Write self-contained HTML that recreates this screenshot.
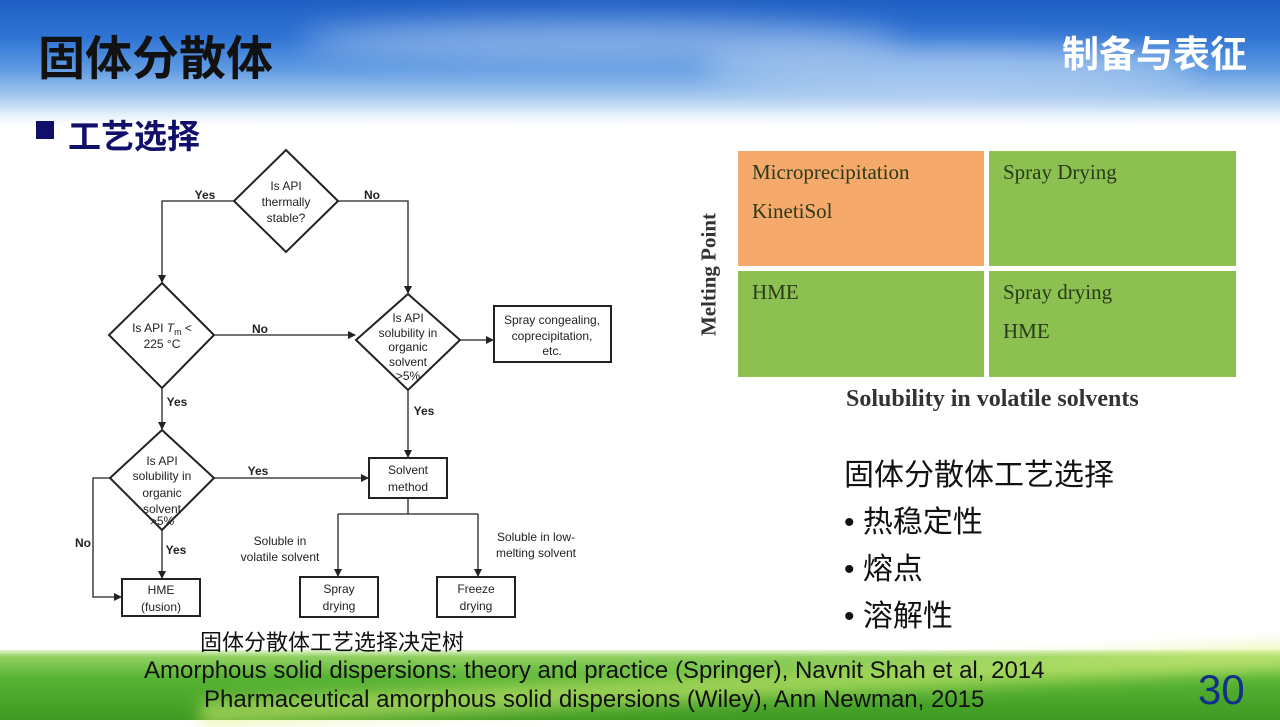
<!DOCTYPE html>
<html><head><meta charset="utf-8"><style>
body{margin:0;width:1280px;height:720px;overflow:hidden;position:relative;font-family:"Liberation Sans","Noto Sans CJK SC",sans-serif;background:#fff}
.sky{position:absolute;left:0;top:0;width:1280px;height:125px;background:linear-gradient(180deg,#1f5fc4 0%,#2f74d4 30%,#5e9ae2 55%,#a9cbef 78%,#e8f1fb 92%,#fff 100%)}
.cloud{position:absolute;border-radius:50%;background:rgba(255,255,255,.4);filter:blur(14px)}
.grass{position:absolute;left:0;top:650px;width:1280px;height:70px;background:linear-gradient(180deg,#e4f5d0 0%,#8fd060 10%,#56b333 40%,#3e9a22 100%)}
.stripe{position:absolute;left:200px;top:672px;width:1100px;height:26px;background:rgba(220,240,120,.55);transform:rotate(-3deg);filter:blur(8px)}
.abs{position:absolute;white-space:nowrap}
.cell{position:absolute;font-family:"Liberation Serif",serif;font-size:21px;color:#2a3a1a;padding:2px 14px;box-sizing:border-box;line-height:39px}
</style></head><body>
<div class="sky"></div>
<div class="cloud" style="left:300px;top:20px;width:600px;height:40px"></div>
<div class="cloud" style="left:700px;top:45px;width:500px;height:45px"></div>
<div class="grass"></div><div class="stripe"></div>
<div class="abs" style="left:38px;top:20px;font-size:47px;font-weight:bold;color:#111">固体分散体</div>
<div class="abs" style="left:1062px;top:24px;font-size:37px;font-weight:bold;color:#fff">制备与表征</div>
<div class="abs" style="left:36px;top:121px;width:18px;height:18px;background:#10106a"></div>
<div class="abs" style="left:68px;top:110px;font-size:33px;font-weight:bold;color:#10106a">工艺选择</div>

<svg class="abs" style="left:0;top:0" width="700" height="640" font-family="Liberation Sans,sans-serif" font-size="12" fill="none" stroke="#222" stroke-width="1.3">
<defs><marker id="a" markerWidth="8" markerHeight="8" refX="7" refY="4" orient="auto" markerUnits="userSpaceOnUse"><path d="M0,0L8,4L0,8z" fill="#222" stroke="none"/></marker></defs>
<polygon points="286,150 338,201 286,252 234,201" stroke-width="2"/>
<polygon points="162,283 214,335 162,388 109,335" stroke-width="2"/>
<polygon points="408,294 460,340 408,390 356,340" stroke-width="2"/>
<polygon points="162,430 214,478 162,530 110,478" stroke-width="2"/>
<rect x="494" y="306" width="117" height="56" stroke-width="2"/>
<rect x="369" y="458" width="78" height="40" stroke-width="2"/>
<rect x="122" y="579" width="78" height="37" stroke-width="2"/>
<rect x="300" y="577" width="78" height="40" stroke-width="2"/>
<rect x="437" y="577" width="78" height="40" stroke-width="2"/>
<polyline points="234,201 162,201 162,282" marker-end="url(#a)"/>
<polyline points="338,201 408,201 408,293" marker-end="url(#a)"/>
<line x1="214" y1="335" x2="355" y2="335" marker-end="url(#a)"/>
<line x1="460" y1="340" x2="493" y2="340" marker-end="url(#a)"/>
<line x1="162" y1="388" x2="162" y2="429" marker-end="url(#a)"/>
<line x1="408" y1="390" x2="408" y2="457" marker-end="url(#a)"/>
<line x1="214" y1="478" x2="368" y2="478" marker-end="url(#a)"/>
<line x1="162" y1="530" x2="162" y2="578" marker-end="url(#a)"/>
<polyline points="110,478 93,478 93,597 121,597" marker-end="url(#a)"/>
<polyline points="408,498 408,514"/>
<polyline points="338,514 478,514"/>
<line x1="338" y1="514" x2="338" y2="576" marker-end="url(#a)"/>
<line x1="478" y1="514" x2="478" y2="576" marker-end="url(#a)"/>
<g fill="#222" stroke="none" text-anchor="middle">
<text x="286" y="190">Is API</text><text x="286" y="206">thermally</text><text x="286" y="222">stable?</text>
<text x="162" y="332">Is API <tspan font-style="italic">T</tspan><tspan font-size="9" dy="3">m</tspan><tspan dy="-3"> &lt;</tspan></text><text x="162" y="348">225 °C</text>
<text x="408" y="322">Is API</text><text x="408" y="337">solubility in</text><text x="408" y="351">organic</text><text x="408" y="366">solvent</text><text x="408" y="380">&gt;5%</text>
<text x="162" y="465">Is API</text><text x="162" y="480">solubility in</text><text x="162" y="497">organic</text><text x="162" y="513">solvent</text><text x="162" y="525">&gt;5%</text>
<text x="552" y="324">Spray congealing,</text><text x="552" y="340">coprecipitation,</text><text x="552" y="355">etc.</text>
<text x="408" y="474">Solvent</text><text x="408" y="491">method</text>
<text x="161" y="594">HME</text><text x="161" y="611">(fusion)</text>
<text x="339" y="593">Spray</text><text x="339" y="610">drying</text>
<text x="476" y="593">Freeze</text><text x="476" y="610">drying</text>
<text x="280" y="545">Soluble in</text><text x="280" y="561">volatile solvent</text>
<text x="536" y="541">Soluble in low-</text><text x="536" y="557">melting solvent</text>
<g font-weight="bold"><text x="205" y="199">Yes</text><text x="372" y="199">No</text><text x="260" y="333">No</text><text x="177" y="406">Yes</text><text x="424" y="415">Yes</text><text x="258" y="475">Yes</text><text x="176" y="554">Yes</text><text x="83" y="547">No</text></g>
</g></svg>

<div class="cell" style="left:738px;top:151px;width:246px;height:115px;background:#f5a96b">Microprecipitation<br>KinetiSol</div>
<div class="cell" style="left:989px;top:151px;width:247px;height:115px;background:#8cc152">Spray Drying</div>
<div class="cell" style="left:738px;top:271px;width:246px;height:106px;background:#8cc152">HME</div>
<div class="cell" style="left:989px;top:271px;width:247px;height:106px;background:#8cc152">Spray drying<br>HME</div>
<div class="abs" style="left:634px;top:262px;transform:rotate(-90deg);transform-origin:center;width:150px;text-align:center;font-family:'Liberation Serif',serif;font-weight:bold;font-size:21px;color:#333">Melting Point</div>
<div class="abs" style="left:846px;top:386px;font-family:'Liberation Serif',serif;font-weight:bold;font-size:24px;color:#333">Solubility in volatile solvents</div>

<div class="abs" style="left:844px;top:452px;font-size:30px;color:#111;line-height:47px">固体分散体工艺选择<br>• 热稳定性<br>• 熔点<br>• 溶解性</div>
<div class="abs" style="left:200px;top:625px;font-size:22px;color:#111">固体分散体工艺选择决定树</div>
<div class="abs" style="left:144px;top:657px;font-size:24px;color:#111">Amorphous solid dispersions: theory and practice (Springer), Navnit Shah et al, 2014</div>
<div class="abs" style="left:204px;top:686px;font-size:24px;color:#111">Pharmaceutical amorphous solid dispersions (Wiley), Ann Newman, 2015</div>
<div class="abs" style="left:1198px;top:666px;font-size:42px;color:#12308a">30</div>
</body></html>
